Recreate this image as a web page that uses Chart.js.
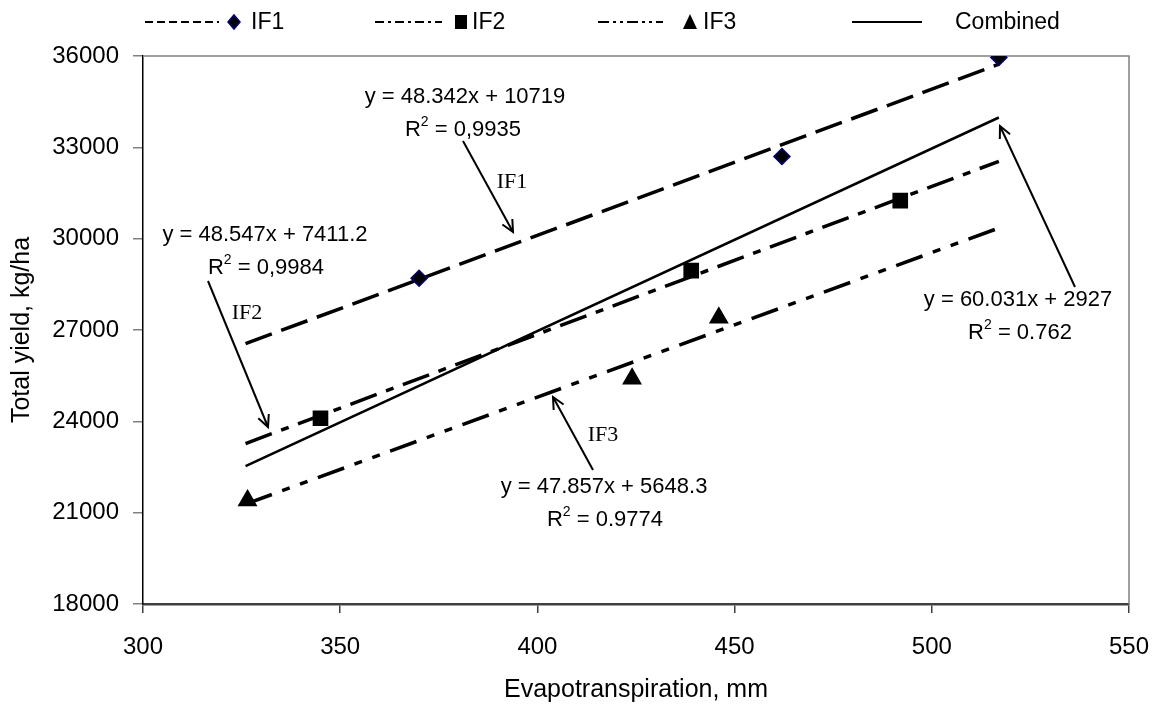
<!DOCTYPE html>
<html>
<head>
<meta charset="utf-8">
<script src="https://cdn.jsdelivr.net/npm/chart.js@4.4.1/dist/chart.umd.min.js"></script>
<style>
  html, body { margin: 0; padding: 0; background: #fff; }
  #wrap { width: 1156px; height: 707px; }
</style>
</head>
<body>
<div id="wrap"><canvas id="chart" width="1156" height="707"></canvas></div>
<script>
// measured points (evapotranspiration mm, total yield kg/ha)
const if1X = [370, 462, 517];
const if1Y = [28700, 32700, 35950];
const if2X = [345, 439, 492];
const if2Y = [24100, 28950, 31250];
const if3X = [326.5, 424, 446];
const if3Y = [21400, 25400, 27400];

// trendline end points
const trendX = [326, 517];
const if1Trend = [26550, 35730];
const if2Trend = [23270, 32540];
const if3Trend = [21280, 30350];
const combinedTrend = [22530, 33980];

const xTicks = [300, 350, 400, 450, 500, 550];
const yTicks = [18000, 21000, 24000, 27000, 30000, 33000, 36000];

const FONT = "'Liberation Sans', Arial, sans-serif";
const SERIF = "'Liberation Serif', 'Times New Roman', serif";

const DASH1 = [28, 10];
const DASH2 = [28, 10, 8, 10];
const DASH3 = [28, 11, 8, 11, 8, 11];

function pts(xs, ys) {
  return xs.map((x, i) => ({ x: x, y: ys[i] }));
}

function trend(label, ys, dash, width) {
  return {
    type: "line",
    label: label,
    data: pts(trendX, ys),
    borderColor: "#000",
    borderWidth: width,
    borderDash: dash,
    borderCapStyle: "butt",
    pointRadius: 0,
    fill: false,
    order: 2,
  };
}

function marker(label, xs, ys, style, radius, border) {
  return {
    type: "scatter",
    label: label,
    data: pts(xs, ys),
    pointStyle: style,
    pointRadius: radius,
    backgroundColor: "#000",
    borderColor: border,
    borderWidth: 1.5,
    order: 1,
  };
}

// equations, arrows and IF labels (canvas pixels)
const notes = [
  { text: "y = 48.342x + 10719", x: 465, y: 97 },
  { text: "R2 = 0,9935", x: 463, y: 130, sup: true },
  { text: "y = 48.547x + 7411.2", x: 265, y: 235 },
  { text: "R2 = 0,9984", x: 266, y: 268, sup: true },
  { text: "y = 47.857x + 5648.3", x: 604, y: 487 },
  { text: "R2 = 0.9774", x: 605, y: 520, sup: true },
  { text: "y = 60.031x + 2927", x: 1018, y: 300 },
  { text: "R2 = 0.762", x: 1020, y: 333, sup: true },
];
const arrows = [
  { from: [463, 141], to: [513, 232] },
  { from: [208, 281], to: [268, 427] },
  { from: [593, 470], to: [553, 397] },
  { from: [1075, 287], to: [1000, 126] },
];
const ifLabels = [
  { text: "IF1", x: 512, y: 182 },
  { text: "IF2", x: 247, y: 313 },
  { text: "IF3", x: 603, y: 435 },
];

const legendItems = [
  { text: "IF1", x0: 145, x1: 219, dash: [8, 4], mark: "diamond", mx: 234, tx: 251 },
  { text: "IF2", x0: 375, x1: 442, dash: [9, 4, 3, 4], mark: "square", mx: 461, tx: 472 },
  { text: "IF3", x0: 598, x1: 663, dash: [11, 4, 3, 4, 3, 4], mark: "triangle", mx: 690, tx: 703 },
  { text: "Combined", x0: 852, x1: 922, dash: [], mark: null, mx: 0, tx: 955 },
];

function drawMark(ctx, kind, x, y) {
  ctx.save();
  ctx.fillStyle = "#000";
  ctx.beginPath();
  if (kind === "diamond") {
    ctx.moveTo(x, y - 7); ctx.lineTo(x + 6, y); ctx.lineTo(x, y + 7); ctx.lineTo(x - 6, y);
    ctx.closePath();
    ctx.fill();
    ctx.strokeStyle = "#000080";
    ctx.lineWidth = 1.5;
    ctx.stroke();
  } else if (kind === "square") {
    ctx.rect(x - 6, y - 7, 12, 14);
    ctx.fill();
  } else if (kind === "triangle") {
    ctx.moveTo(x, y - 8); ctx.lineTo(x + 7, y + 7); ctx.lineTo(x - 7, y + 7);
    ctx.closePath();
    ctx.fill();
  }
  ctx.restore();
}

const decorPlugin = {
  id: "decor",
  beforeDatasetsDraw(chart) {
    const { ctx, chartArea: a } = chart;
    ctx.save();
    ctx.strokeStyle = "#808080";
    ctx.lineWidth = 1.5;
    ctx.beginPath();
    ctx.moveTo(a.left, a.top);
    ctx.lineTo(a.right, a.top);
    ctx.lineTo(a.right, a.bottom);
    ctx.stroke();
    ctx.restore();
  },
  afterDraw(chart) {
    const ctx = chart.ctx;
    ctx.save();
    ctx.fillStyle = "#000";
    ctx.textBaseline = "middle";

    // equations
    ctx.font = "22px " + FONT;
    notes.forEach((n) => {
      if (!n.sup) {
        ctx.textAlign = "center";
        ctx.fillText(n.text, n.x, n.y);
        return;
      }
      const rest = n.text.slice(2);
      ctx.font = "22px " + FONT;
      const wR = ctx.measureText("R").width;
      const wRest = ctx.measureText(rest).width;
      ctx.font = "14px " + FONT;
      const w2 = ctx.measureText("2").width;
      const total = wR + w2 + wRest;
      let x = n.x - total / 2;
      ctx.textAlign = "left";
      ctx.font = "22px " + FONT;
      ctx.fillText("R", x, n.y);
      x += wR;
      ctx.font = "14px " + FONT;
      ctx.fillText("2", x, n.y - 8);
      x += w2;
      ctx.font = "22px " + FONT;
      ctx.fillText(rest, x, n.y);
    });

    // arrows
    ctx.strokeStyle = "#000";
    ctx.lineWidth = 2;
    arrows.forEach((ar) => {
      const [x0, y0] = ar.from;
      const [x1, y1] = ar.to;
      ctx.beginPath();
      ctx.moveTo(x0, y0);
      ctx.lineTo(x1, y1);
      ctx.stroke();
      const ang = Math.atan2(y1 - y0, x1 - x0);
      const len = 13;
      ctx.beginPath();
      ctx.moveTo(x1 - len * Math.cos(ang - 0.45), y1 - len * Math.sin(ang - 0.45));
      ctx.lineTo(x1, y1);
      ctx.lineTo(x1 - len * Math.cos(ang + 0.45), y1 - len * Math.sin(ang + 0.45));
      ctx.stroke();
    });

    ctx.font = "22px " + SERIF;
    ctx.textAlign = "center";
    ifLabels.forEach((l) => ctx.fillText(l.text, l.x, l.y));

    // legend
    const ly = 22;
    legendItems.forEach((it) => {
      ctx.save();
      ctx.strokeStyle = "#000";
      ctx.lineWidth = 2;
      ctx.setLineDash(it.dash);
      ctx.beginPath();
      ctx.moveTo(it.x0, ly);
      ctx.lineTo(it.x1, ly);
      ctx.stroke();
      ctx.restore();
      if (it.mark) drawMark(ctx, it.mark, it.mx, ly);
      ctx.font = "23px " + FONT;
      ctx.textAlign = "left";
      ctx.fillText(it.text, it.tx, ly + 1);
    });
    ctx.restore();
  },
};

new Chart(document.getElementById("chart"), {
  data: {
    datasets: [
      trend("IF1 trend", if1Trend, DASH1, 3.5),
      trend("IF2 trend", if2Trend, DASH2, 3.5),
      trend("IF3 trend", if3Trend, DASH3, 3.5),
      trend("Combined", combinedTrend, [], 2.5),
      marker("IF1", if1X, if1Y, "rectRot", 8, "#000080"),
      marker("IF2", if2X, if2Y, "rect", 10, "#000"),
      marker("IF3", if3X, if3Y, "triangle", 10, "#000"),
    ],
  },
  options: {
    responsive: false,
    animation: false,
    layout: { padding: { top: 56, right: 27, left: 0, bottom: 0 } },
    plugins: { legend: { display: false }, tooltip: { enabled: false } },
    scales: {
      x: {
        type: "linear",
        min: 300,
        max: 550,
        afterBuildTicks: (s) => { s.ticks = xTicks.map((v) => ({ value: v })); },
        afterFit: (s) => { s.height = 103; s.paddingLeft = 0; s.paddingRight = 0; },
        ticks: { color: "#000", padding: 20, font: { family: FONT, size: 24 }, callback: (v) => String(v) },
        grid: { drawOnChartArea: false, drawTicks: true, tickLength: 9, color: "#404040", lineWidth: 1.5 },
        border: { display: true, color: "#404040", width: 2.5 },
        title: {
          display: true,
          text: "Evapotranspiration, mm",
          color: "#000",
          font: { family: FONT, size: 25 },
          padding: { top: 0, bottom: 2 },
        },
      },
      y: {
        type: "linear",
        min: 18000,
        max: 36000,
        afterBuildTicks: (s) => { s.ticks = yTicks.map((v) => ({ value: v })); },
        afterFit: (s) => { s.width = 143; s.paddingTop = 0; s.paddingBottom = 0; },
        ticks: { color: "#000", padding: 14, font: { family: FONT, size: 24 }, callback: (v) => String(v) },
        grid: { drawOnChartArea: false, drawTicks: true, tickLength: 10, color: "#808080", lineWidth: 1.5 },
        border: { display: true, color: "#000", width: 1.5 },
        title: {
          display: true,
          text: "Total yield, kg/ha",
          color: "#000",
          font: { family: FONT, size: 25 },
          padding: { top: 7, bottom: 0 },
        },
      },
    },
  },
  plugins: [decorPlugin],
});
</script>
</body>
</html>
